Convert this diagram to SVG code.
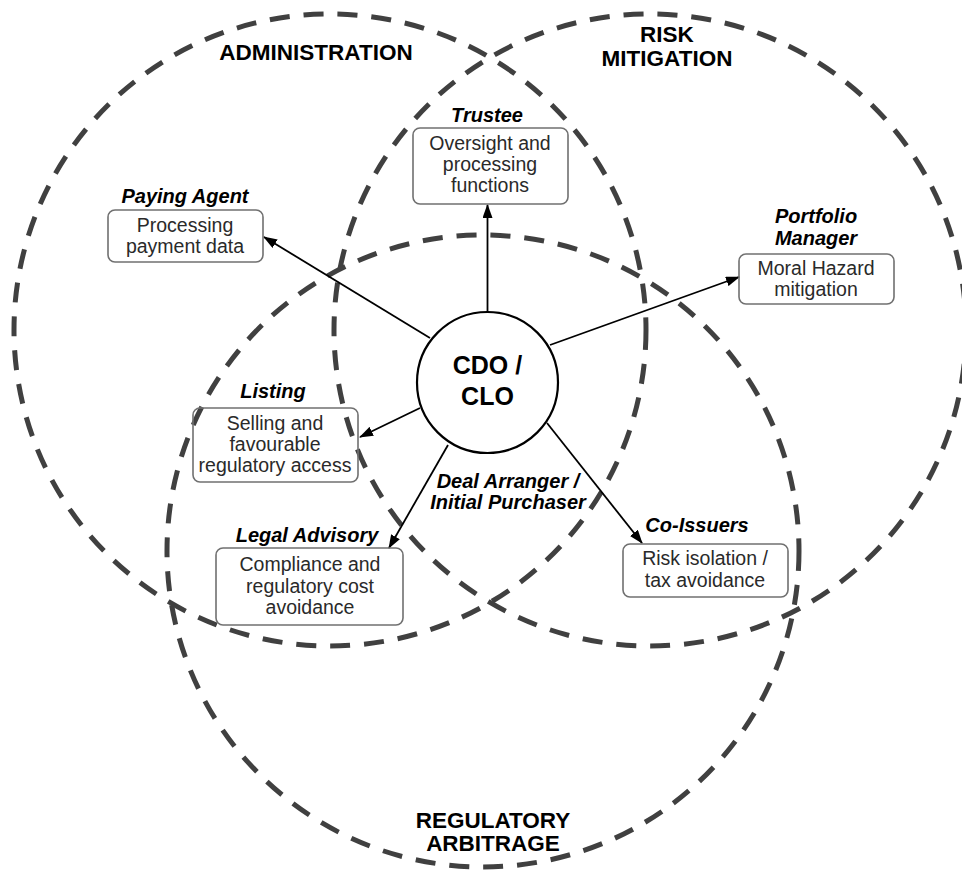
<svg xmlns="http://www.w3.org/2000/svg" width="962" height="870" viewBox="0 0 962 870">
<style>
.zone{fill:none;stroke:#404040;stroke-width:5;stroke-dasharray:20 14}
.zt{font-family:"Liberation Sans",Arial,sans-serif;font-weight:bold;font-size:22.5px;fill:#000;text-anchor:middle}
.box{fill:none;stroke:#707070;stroke-width:1.6}
.lbl{font-family:"Liberation Sans",Arial,sans-serif;font-weight:bold;font-style:italic;font-size:20px;fill:#000;text-anchor:middle}
.txt{font-family:"Liberation Sans",Arial,sans-serif;font-size:19.5px;fill:#2a2a2a;text-anchor:middle}
.hub{font-family:"Liberation Sans",Arial,sans-serif;font-weight:bold;font-size:25px;fill:#000;text-anchor:middle}
.conn{stroke:#000;stroke-width:1.8;fill:none;marker-end:url(#ah)}
</style>
<defs>
<marker id="ah" markerUnits="userSpaceOnUse" markerWidth="14" markerHeight="10" refX="13" refY="5" orient="auto">
<path d="M0,0 L14,5 L0,10 z" fill="#000"/>
</marker>
</defs>
<rect width="962" height="870" fill="#fff"/>
<g id="zones">
<circle id="zone-admin" class="zone" cx="330" cy="330" r="316"/>
<circle id="zone-risk" class="zone" cx="650" cy="330" r="316"/>
<circle id="zone-reg" class="zone" cx="483" cy="551" r="316"/>
<text class="zt" x="316" y="60">ADMINISTRATION</text>
<text class="zt" x="667" y="42">RISK</text>
<text class="zt" x="667" y="66">MITIGATION</text>
<text class="zt" x="493" y="828">REGULATORY</text>
<text class="zt" x="493" y="851">ARBITRAGE</text>
</g>
<g id="connectors">
<line class="conn" x1="430" y1="338" x2="264" y2="237"/>
<line class="conn" x1="487.5" y1="312" x2="487.5" y2="205"/>
<line class="conn" x1="550" y1="345" x2="739" y2="277"/>
<line class="conn" x1="420" y1="408" x2="360" y2="437"/>
<line class="conn" x1="448" y1="445" x2="389" y2="548"/>
<line class="conn" x1="547" y1="423" x2="642" y2="543"/>
</g>
<g id="hub">
<circle cx="487.5" cy="382.5" r="70.5" fill="#fff" stroke="#000" stroke-width="2.2"/>
<text class="hub" x="487.5" y="374">CDO /</text>
<text class="hub" x="487.5" y="405">CLO</text>
</g>
<g id="paying-agent">
<text class="lbl" x="185" y="203">Paying Agent</text>
<rect class="box" x="108" y="210" width="155" height="52" rx="7"/>
<text class="txt" x="185" y="232">Processing</text>
<text class="txt" x="185" y="253">payment data</text>
</g>
<g id="trustee">
<text class="lbl" x="487" y="122">Trustee</text>
<rect class="box" x="413" y="128" width="155" height="76" rx="7"/>
<text class="txt" x="490" y="150">Oversight and</text>
<text class="txt" x="490" y="171">processing</text>
<text class="txt" x="490" y="192">functions</text>
</g>
<g id="portfolio-manager">
<text class="lbl" x="816" y="223">Portfolio</text>
<text class="lbl" x="816" y="245">Manager</text>
<rect class="box" x="739" y="254" width="155" height="50" rx="7"/>
<text class="txt" x="816" y="275">Moral Hazard</text>
<text class="txt" x="816" y="296">mitigation</text>
</g>
<g id="listing">
<text class="lbl" x="273" y="398">Listing</text>
<rect class="box" x="193" y="408" width="165" height="74" rx="7"/>
<text class="txt" x="275" y="430">Selling and</text>
<text class="txt" x="275" y="451">favourable</text>
<text class="txt" x="275" y="472">regulatory access</text>
</g>
<g id="legal-advisory">
<text class="lbl" x="307" y="542">Legal Advisory</text>
<rect class="box" x="216" y="548" width="187" height="77" rx="7"/>
<text class="txt" x="310" y="571">Compliance and</text>
<text class="txt" x="310" y="593">regulatory cost</text>
<text class="txt" x="310" y="614">avoidance</text>
</g>
<g id="deal-arranger">
<text class="lbl" x="508" y="488">Deal Arranger /</text>
<text class="lbl" x="508" y="509">Initial Purchaser</text>
</g>
<g id="co-issuers">
<text class="lbl" x="697" y="532">Co-Issuers</text>
<rect class="box" x="623" y="544" width="165" height="53" rx="7"/>
<text class="txt" x="705" y="565">Risk isolation /</text>
<text class="txt" x="705" y="587">tax avoidance</text>
</g>
</svg>
